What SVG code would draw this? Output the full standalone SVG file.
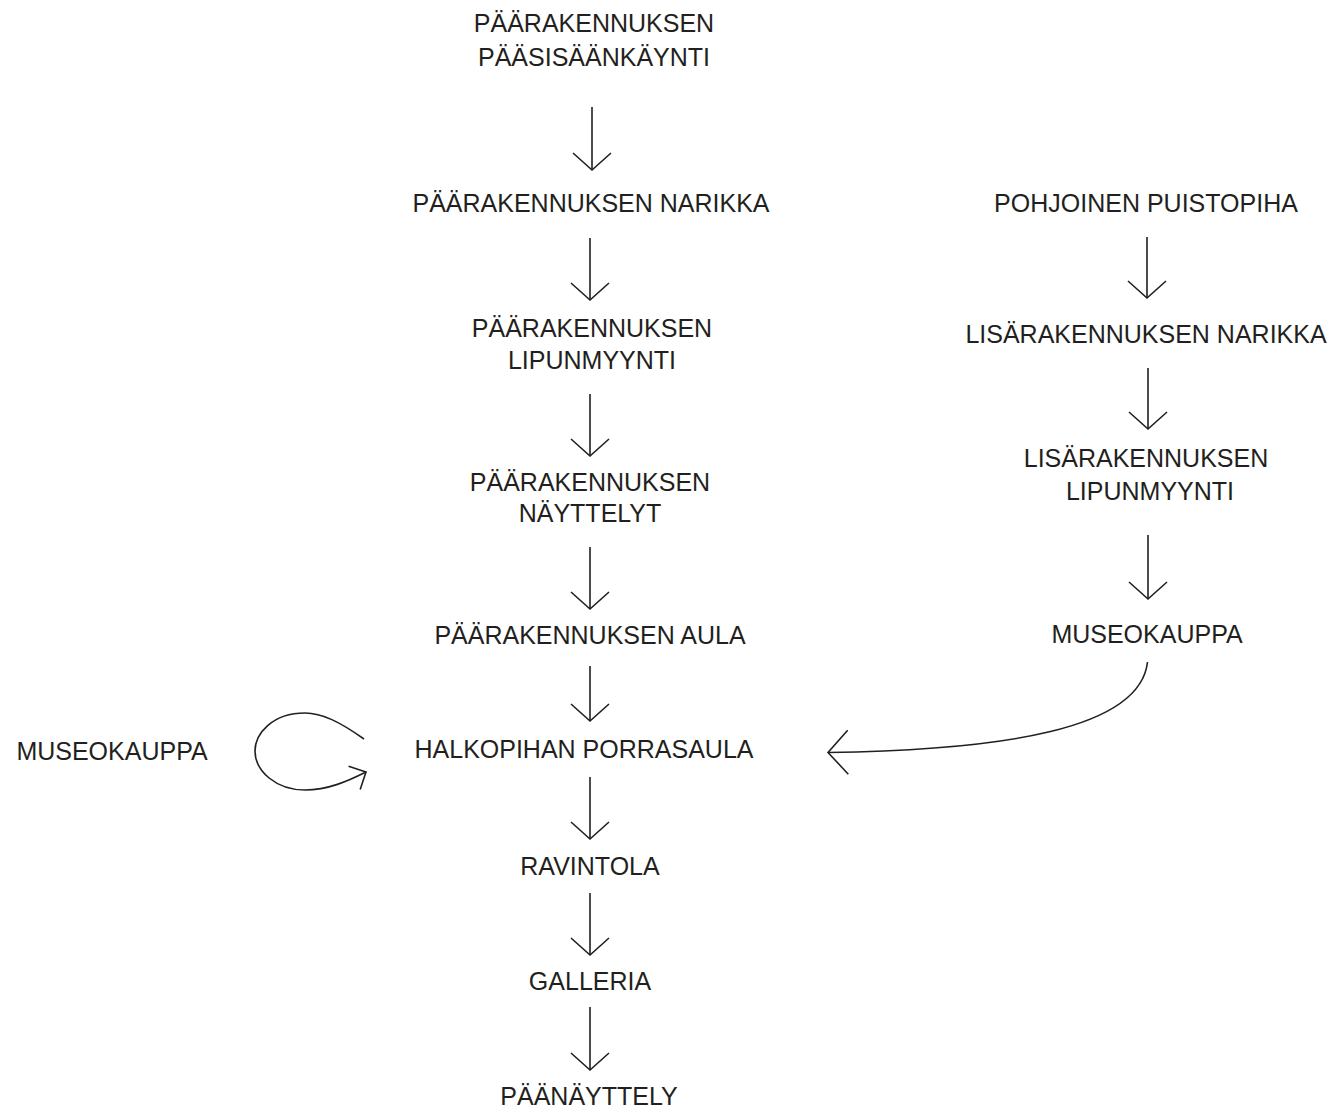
<svg xmlns="http://www.w3.org/2000/svg" width="1332" height="1109" viewBox="0 0 1332 1109">
  <style>
    .lbl { font-family: "Liberation Sans", Arial, sans-serif; font-size: 25px; fill: #231f20; text-anchor: middle; }
    .edge { fill: none; stroke: #231f20; stroke-width: 1.6; }
    .head { fill: none; stroke: #231f20; stroke-width: 1.6; stroke-linejoin: miter; }
  </style>
  <defs>
    <marker id="arr" markerUnits="userSpaceOnUse" viewBox="-30 -30 60 60" markerWidth="60" markerHeight="60" refX="0" refY="0" orient="auto" overflow="visible">
      <path class="head" d="M-17,-19 L0,0 L-17,19"/>
    </marker>
    <marker id="arrBig" markerUnits="userSpaceOnUse" viewBox="-30 -30 60 60" markerWidth="60" markerHeight="60" refX="0" refY="0" orient="auto" overflow="visible">
      <path class="head" d="M-20,-22 L0,0 L-20,22"/>
    </marker>
    <marker id="arrSmall" markerUnits="userSpaceOnUse" viewBox="-30 -30 60 60" markerWidth="60" markerHeight="60" refX="0" refY="0" orient="auto" overflow="visible">
      <path class="head" d="M-13,-13 L0,0 L-13,13"/>
    </marker>
  </defs>

  <rect x="0" y="0" width="1332" height="1109" fill="#ffffff"/>

  <g id="connectors">
    <path class="edge" d="M592,107 L592,170" marker-end="url(#arr)"/>
    <path class="edge" d="M590,238 L590,300" marker-end="url(#arr)"/>
    <path class="edge" d="M590,394 L590,456" marker-end="url(#arr)"/>
    <path class="edge" d="M590,547 L590,609" marker-end="url(#arr)"/>
    <path class="edge" d="M590,666 L590,721" marker-end="url(#arr)"/>
    <path class="edge" d="M590,777 L590,839" marker-end="url(#arr)"/>
    <path class="edge" d="M590,893 L590,955" marker-end="url(#arr)"/>
    <path class="edge" d="M590,1007 L590,1070" marker-end="url(#arr)"/>
    <path class="edge" d="M1147,237 L1147,298" marker-end="url(#arr)"/>
    <path class="edge" d="M1148,368 L1148,429" marker-end="url(#arr)"/>
    <path class="edge" d="M1148,535 L1148,599" marker-end="url(#arr)"/>
    <path class="edge" d="M1147.5,662 C1140,730 1000,750 828,752.5" marker-end="url(#arrBig)"/>
    <path class="edge" d="M364,739 C340,722 322,713 305,713 C272,713 255,734 255,751 C255,771 276,790 305,790 C328,790 348,781 366,772" marker-end="url(#arrSmall)"/>
  </g>

  <g id="n-paasisaankaynti">
    <text class="lbl" x="594" y="32">PÄÄRAKENNUKSEN</text>
    <text class="lbl" x="594" y="66">PÄÄSISÄÄNKÄYNTI</text>
  </g>
  <g id="n-paarakennuksen-narikka">
    <text class="lbl" x="591" y="212">PÄÄRAKENNUKSEN NARIKKA</text>
  </g>
  <g id="n-paarakennuksen-lipunmyynti">
    <text class="lbl" x="592" y="337">PÄÄRAKENNUKSEN</text>
    <text class="lbl" x="592" y="369">LIPUNMYYNTI</text>
  </g>
  <g id="n-paarakennuksen-nayttelyt">
    <text class="lbl" x="590" y="491">PÄÄRAKENNUKSEN</text>
    <text class="lbl" x="590" y="522">NÄYTTELYT</text>
  </g>
  <g id="n-paarakennuksen-aula">
    <text class="lbl" x="590" y="644">PÄÄRAKENNUKSEN AULA</text>
  </g>
  <g id="n-halkopihan-porrasaula">
    <text class="lbl" x="584" y="758">HALKOPIHAN PORRASAULA</text>
  </g>
  <g id="n-ravintola">
    <text class="lbl" x="590" y="875">RAVINTOLA</text>
  </g>
  <g id="n-galleria">
    <text class="lbl" x="590" y="990">GALLERIA</text>
  </g>
  <g id="n-paanayttely">
    <text class="lbl" x="589" y="1105">PÄÄNÄYTTELY</text>
  </g>
  <g id="n-museokauppa-left">
    <text class="lbl" x="112" y="760">MUSEOKAUPPA</text>
  </g>
  <g id="n-pohjoinen-puistopiha">
    <text class="lbl" x="1146" y="212">POHJOINEN PUISTOPIHA</text>
  </g>
  <g id="n-lisarakennuksen-narikka">
    <text class="lbl" x="1146" y="343">LISÄRAKENNUKSEN NARIKKA</text>
  </g>
  <g id="n-lisarakennuksen-lipunmyynti">
    <text class="lbl" x="1146" y="467">LISÄRAKENNUKSEN</text>
    <text class="lbl" x="1150" y="500">LIPUNMYYNTI</text>
  </g>
  <g id="n-museokauppa-right">
    <text class="lbl" x="1147" y="643">MUSEOKAUPPA</text>
  </g>
</svg>
